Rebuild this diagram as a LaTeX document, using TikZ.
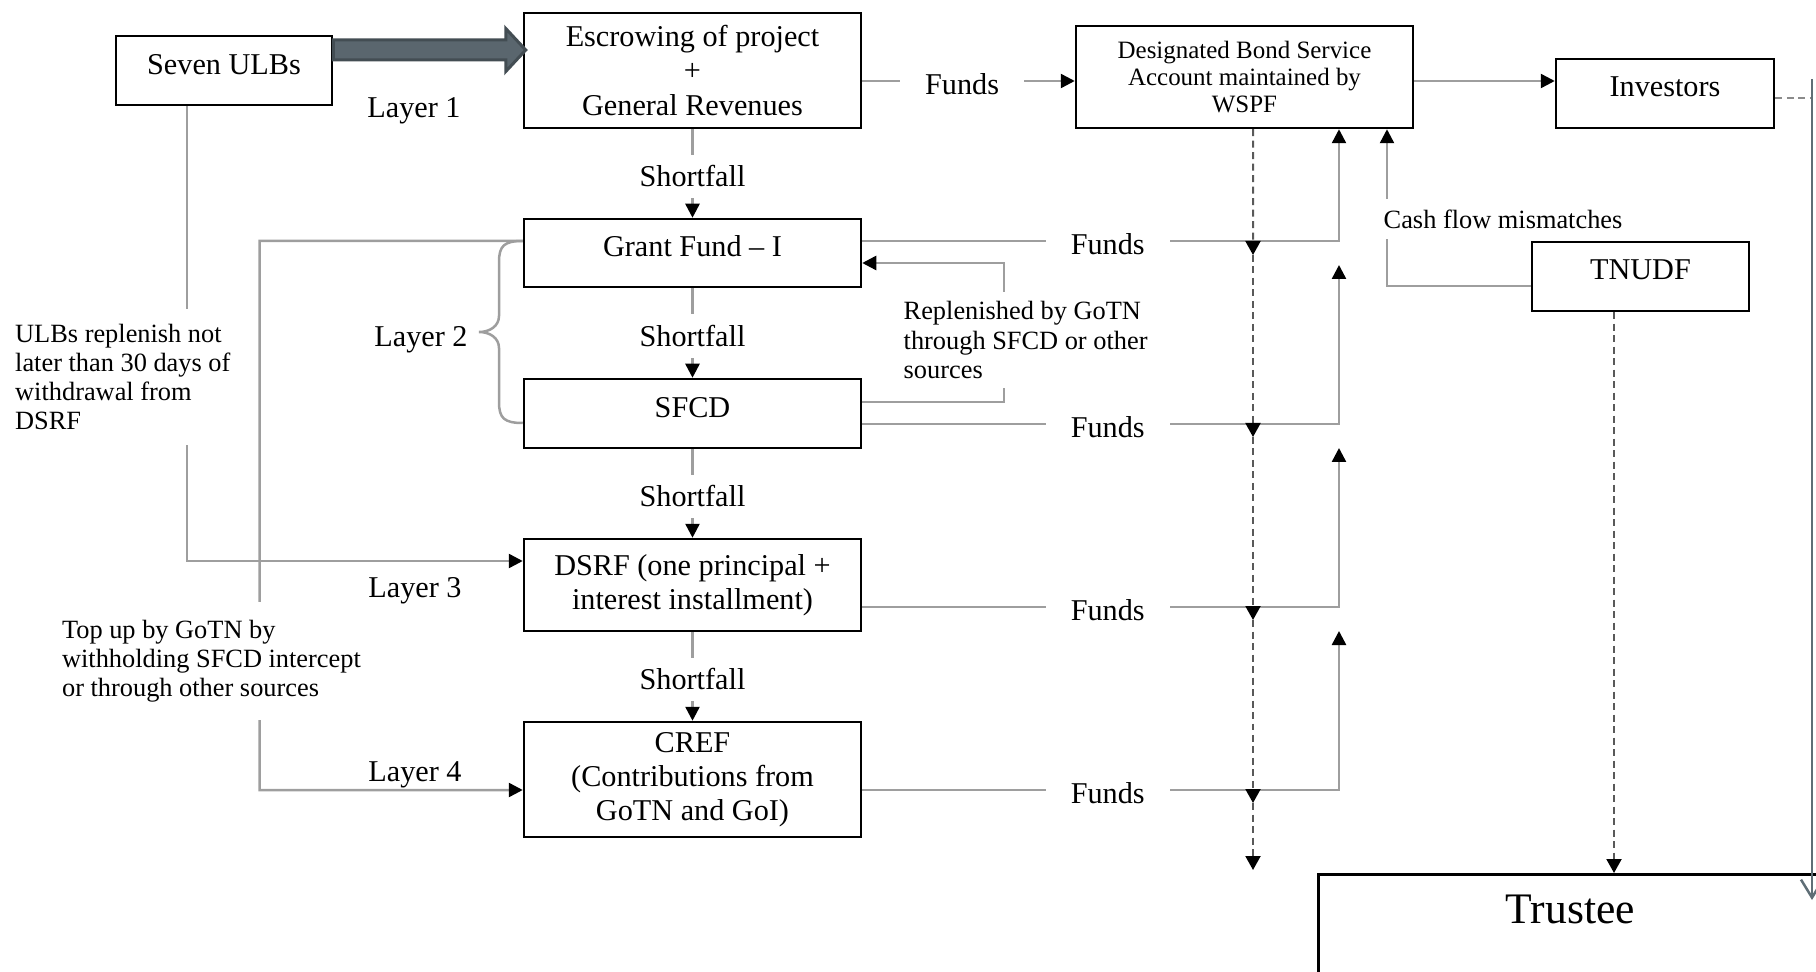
\documentclass[tikz,border=0pt]{standalone}
\usepackage{fontspec}
\setmainfont{Liberation Serif}
\usepackage{tikz}
\usetikzlibrary{arrows.meta}

\begin{document}
\begin{tikzpicture}[x=0.1mm,y=-0.1mm,
  fbox/.style={draw=cbox,line width=0.25mm,inner sep=0pt,minimum width=33.7mm,align=center,font=\fontsize{8.6}{9.7}\selectfont},
  lift/.style={text depth=1.3mm},
  tag/.style={inner sep=0pt,font=\fontsize{8.6}{9.7}\selectfont},
  gap/.style={tag,fill=white,inner xsep=2.5mm,inner ysep=1.1mm,yshift=-0.3mm},
  note/.style={align=left,fill=white,inner xsep=1mm,font=\fontsize{7.5}{8.3}\selectfont},
  link/.style={draw=clink,line width=0.25mm,-{Triangle[length=1.4mm,width=1.4mm,color=black]}},
  plain/.style={draw=clink,line width=0.25mm},
  dlink/.style={draw=cdash,line width=0.2mm,dash pattern=on 0.7mm off 0.45mm,-{Triangle[length=1.4mm,width=1.5mm,color=black]}},
  dplain/.style={draw=cdash!70,line width=0.25mm,dash pattern=on 0.7mm off 0.45mm},
  bigarrow/.style={draw=carrowb,fill=carrow,line width=0.3mm},
  rail/.style={draw=crail,line width=0.25mm,-{Straight Barb[length=1.8mm,width=2.2mm]}}
]
\definecolor{cbox}{rgb}{0.0,0.0,0.0}
\definecolor{clink}{rgb}{0.62,0.62,0.62}
\definecolor{cdash}{rgb}{0.35,0.35,0.35}
\definecolor{carrow}{rgb}{0.353,0.4,0.431}
\definecolor{carrowb}{rgb}{0.263,0.302,0.325}
\definecolor{crail}{rgb}{0.373,0.431,0.463}
\useasboundingbox (0,0) rectangle (1816,972);
%
\node[fbox,lift,minimum width=21.6mm,minimum height=6.9mm] (ulb) at (224,70.5) {Seven ULBs};
\node[fbox,minimum height=11.5mm] (esc) at (692.5,70.5) {Escrowing of project\\+\\General Revenues};
\node[fbox,minimum height=10.2mm,font=\fontsize{7.1}{7.6}\selectfont] (dbsa) at (1244.5,77) {Designated Bond Service\\Account maintained by\\WSPF};
\node[fbox,lift,minimum width=21.8mm,minimum height=6.9mm] (inv) at (1665,93.5) {Investors};
\node[fbox,lift,minimum height=6.8mm] (gf) at (692.5,253) {Grant Fund -- I};
\node[fbox,lift,minimum height=6.9mm] (sfcd) at (692.5,413.5) {SFCD};
\node[fbox,minimum height=9.2mm] (dsrf) at (692.5,585) {DSRF (one principal +\\interest installment)};
\node[fbox,minimum height=11.5mm] (cref) at (692.5,779.5) {CREF\\(Contributions from\\GoTN and GoI)};
\node[fbox,lift,minimum width=21.7mm,minimum height=6.9mm] (tnudf) at (1640.5,276.5) {TNUDF};
\node[fbox,anchor=north west,minimum width=50.4mm,font=\fontsize{12.4}{14}\selectfont,text height=3mm,text depth=12mm,inner ysep=1.95mm] (tru) at (1317,873) {Trustee};
%
\node[tag] (lay1) at (414,111) {Layer 1};
\node[tag] (lay2) at (421,340) {Layer 2};
\node[tag] (lay3) at (415,591) {Layer 3};
\node[tag] (lay4) at (415,775) {Layer 4};
%
\coordinate (ba) at ([yshift=2.05mm]ulb.east);
\coordinate (bb) at (esc.west |- ba);
\filldraw[bigarrow] ([yshift=1mm]ba) -- ([xshift=-1.7mm,yshift=1mm]bb) -- ([xshift=-1.7mm,yshift=2.15mm]bb)
  -- ([xshift=0.3mm]bb) -- ([xshift=-1.7mm,yshift=-2.15mm]bb) -- ([xshift=-1.7mm,yshift=-1mm]bb) -- ([yshift=-1mm]ba) -- cycle;
%
\draw[link] (esc) -- node[gap]{Shortfall} (gf);
\draw[link] (gf) -- node[gap]{Shortfall} (sfcd);
\draw[link] (sfcd) -- node[gap]{Shortfall} (dsrf);
\draw[link] (dsrf) -- node[gap]{Shortfall} (cref);
%
\draw[link] ([yshift=-1.05mm]esc.east) -- node[gap,pos=0.47]{Funds} ([yshift=-1.05mm]esc.east -| dbsa.west);
\draw[link] ([yshift=-0.4mm]dbsa.east) -- ([yshift=-0.4mm]dbsa.east -| inv.west);
\coordinate (upgf) at ([xshift=9.45mm]dbsa.south);
\coordinate (upsfcd) at (1339,265);
\coordinate (updsrf) at (1339,448);
\coordinate (upcref) at (1339,631);
\foreach \n/\s in {gf/1.2,sfcd/-1.05,dsrf/-2.2,cref/-1.05}
  \draw[link] ([yshift=\s mm]\n.east) -- node[gap,pos=0.515]{Funds} ([yshift=\s mm]\n.east -| up\n) -- (up\n);
%
\coordinate (dtop) at ([xshift=0.85mm]dbsa.south);
\coordinate (d1) at (1253,255);
\coordinate (d2) at (1253,437);
\coordinate (d3) at (1253,620);
\coordinate (d4) at (1253,803);
\coordinate (d5) at (1253,870);
\foreach \a/\b in {dtop/d1,d1/d2,d2/d3,d3/d4,d4/d5}
  \draw[dlink] (\a) -- (\b);
\draw[dlink] ([xshift=-2.65mm]tnudf.south) -- ([xshift=-2.65mm]tnudf.south |- tru.north);
\draw[link] ([yshift=-0.95mm]tnudf.west) -| ([xshift=14.25mm]dbsa.south);
%
\coordinate (rtop) at (1812,79);
\coordinate (rbot) at (1812,900);
\draw[dplain] ([yshift=-0.45mm]inv.east) -- ([yshift=-0.45mm]inv.east -| rtop);
\draw[rail] (rtop) -- (rbot);
%
\coordinate (rp) at (1004,330);
\draw[link] ([yshift=1.15mm]sfcd.east) -| (rp) |- ([yshift=-1mm]gf.east);
\draw[plain] ([yshift=1.2mm]gf.west) .. controls (504,241) and (499,246) .. (499,262) -- (499,316)
  .. controls (499,326) and (490,332) .. (479,332) .. controls (490,332) and (499,338) .. (499,348)
  -- (499,402) .. controls (499,418) and (504,423) .. ([yshift=-0.95mm]sfcd.west);
\coordinate (tu) at (259.5,241);
\draw[link] ([yshift=1.2mm]gf.west) -- (tu) |- ([yshift=-1.05mm]cref.west);
\draw[link] ([xshift=-3.7mm]ulb.south) |- ([yshift=2.4mm]dsrf.west);
%
\node[note,anchor=west,inner ysep=1mm] (repl) at (893,340) {Replenished by GoTN\\through SFCD or other\\sources};
\node[note,anchor=west,inner ysep=1.5mm] (ulbnote) at (4.5,377) {ULBs replenish not\\later than 30 days of\\withdrawal from\\DSRF};
\node[note,anchor=west,inner ysep=1.8mm] (topup) at (51.4,661) {Top up by GoTN by\\withholding SFCD intercept\\or through other sources};
\node[note,anchor=west,inner ysep=1.1mm,inner xsep=0.5mm] (cfm) at (1378,219) {Cash flow mismatches};
%
\end{tikzpicture}
\end{document}
